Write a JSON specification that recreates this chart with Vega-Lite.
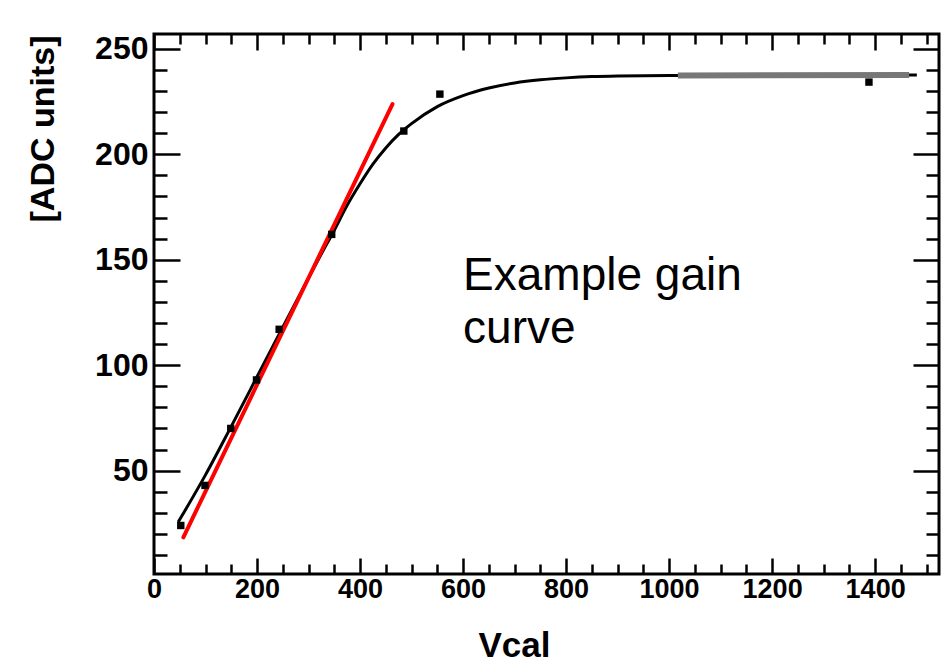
{
  "$schema": "https://vega.github.io/schema/vega-lite/v6.json",
  "width": 785,
  "height": 540,
  "autosize": {"type": "none"},
  "padding": {"left": 154, "top": 34, "right": 12, "bottom": 98},
  "background": "white",
  "config": {"view": {"stroke": "black", "strokeWidth": 3}, "font": "Liberation Sans"},
  "datasets": {
    "curve": [
      {"vcal": 47, "adc": 25.6},
      {"vcal": 100, "adc": 48},
      {"vcal": 150, "adc": 71},
      {"vcal": 200, "adc": 94.5},
      {"vcal": 250, "adc": 118},
      {"vcal": 300, "adc": 141.3},
      {"vcal": 325, "adc": 152.8},
      {"vcal": 350, "adc": 164},
      {"vcal": 375, "adc": 175.8},
      {"vcal": 400, "adc": 186},
      {"vcal": 425, "adc": 195.3},
      {"vcal": 450, "adc": 203},
      {"vcal": 475, "adc": 209.4},
      {"vcal": 500, "adc": 214.5},
      {"vcal": 550, "adc": 222.6},
      {"vcal": 600, "adc": 227.8},
      {"vcal": 650, "adc": 231.4},
      {"vcal": 700, "adc": 233.8},
      {"vcal": 750, "adc": 235.3},
      {"vcal": 800, "adc": 236.2},
      {"vcal": 850, "adc": 236.8},
      {"vcal": 900, "adc": 237.1},
      {"vcal": 1000, "adc": 237.3},
      {"vcal": 1200, "adc": 237.5},
      {"vcal": 1481, "adc": 237.6}
    ],
    "gray": [
      {"vcal": 1017, "adc": 237.35},
      {"vcal": 1466, "adc": 237.6}
    ],
    "fit": [
      {"vcal": 57, "adc": 18.4},
      {"vcal": 463, "adc": 223.8}
    ],
    "points": [
      {"vcal": 52, "adc": 24},
      {"vcal": 99, "adc": 43},
      {"vcal": 149, "adc": 70},
      {"vcal": 199, "adc": 93},
      {"vcal": 243, "adc": 117},
      {"vcal": 345, "adc": 162},
      {"vcal": 485, "adc": 211},
      {"vcal": 555, "adc": 228.5},
      {"vcal": 1388, "adc": 234.2}
    ],
    "note": [
      {"vcal": 600, "adc": 135.6}
    ]
  },
  "layer": [
    {
      "data": {"name": "curve"},
      "mark": {"type": "line", "color": "black", "strokeWidth": 3, "interpolate": "monotone"},
      "encoding": {
        "x": {
          "field": "vcal", "type": "quantitative",
          "scale": {"domain": [0, 1524], "nice": false, "zero": false},
          "axis": {
            "orient": "bottom",
            "values": [0,50,100,150,200,250,300,350,400,450,500,550,600,650,700,750,800,850,900,950,1000,1050,1100,1150,1200,1250,1300,1350,1400,1450,1500],
            "format": "d",
            "domain": false, "grid": false,
            "tickColor": "black", "tickWidth": 2.5,
            "tickSize": {"condition": {"test": "datum.value % 200 === 0", "value": -16}, "value": -10},
            "labelExpr": "datum.value % 200 === 0 ? datum.label : ''",
            "labelFont": "Liberation Sans", "labelFontWeight": "bold", "labelFontSize": 27,
            "labelColor": "black", "labelPadding": 18,
            "labelFlush": false, "labelOverlap": false, "labelBound": false,
            "title": "Vcal", "titleFont": "Liberation Sans", "titleFontSize": 35, "titleFontWeight": "bold",
            "titleColor": "black", "titleX": 360, "titleY": 82, "titleAlign": "center", "titleBaseline": "alphabetic"
          }
        },
        "y": {
          "field": "adc", "type": "quantitative",
          "scale": {"domain": [1, 257], "nice": false, "zero": false},
          "axis": {
            "orient": "left",
            "values": [10,20,30,40,50,60,70,80,90,100,110,120,130,140,150,160,170,180,190,200,210,220,230,240,250],
            "format": "d",
            "domain": false, "grid": false,
            "tickColor": "black", "tickWidth": 2.5,
            "tickSize": {"condition": {"test": "datum.value % 50 === 0", "value": -26}, "value": -13},
            "labelExpr": "datum.value % 50 === 0 ? datum.label : ''",
            "labelFont": "Liberation Sans", "labelFontWeight": "bold", "labelFontSize": 32,
            "labelColor": "black", "labelPadding": 32,
            "labelFlush": false, "labelOverlap": false, "labelBound": false,
            "title": "[ADC units]", "titleFont": "Liberation Sans", "titleFontSize": 34, "titleFontWeight": "bold",
            "titleColor": "black", "titleAngle": 270, "titleX": -101, "titleY": 1, "titleAlign": "right", "titleBaseline": "alphabetic"
          }
        }
      }
    },
    {
      "data": {"name": "gray"},
      "mark": {"type": "line", "color": "#777777", "strokeWidth": 6},
      "encoding": {
        "x": {"field": "vcal", "type": "quantitative", "axis": null},
        "y": {"field": "adc", "type": "quantitative", "axis": null}
      }
    },
    {
      "data": {"name": "fit"},
      "mark": {"type": "line", "color": "#ff0000", "strokeWidth": 4, "strokeCap": "round"},
      "encoding": {
        "x": {"field": "vcal", "type": "quantitative", "axis": null},
        "y": {"field": "adc", "type": "quantitative", "axis": null}
      }
    },
    {
      "data": {"name": "points"},
      "mark": {"type": "square", "size": 55, "color": "black", "opacity": 1},
      "encoding": {
        "x": {
          "field": "vcal", "type": "quantitative",
          "axis": {
            "orient": "top",
            "values": [0,50,100,150,200,250,300,350,400,450,500,550,600,650,700,750,800,850,900,950,1000,1050,1100,1150,1200,1250,1300,1350,1400,1450,1500],
            "domain": false, "grid": false, "labels": false, "title": null,
            "tickColor": "black", "tickWidth": 2.5,
            "tickSize": {"condition": {"test": "datum.value % 200 === 0", "value": -16}, "value": -10}
          }
        },
        "y": {
          "field": "adc", "type": "quantitative",
          "axis": {
            "orient": "right",
            "values": [10,20,30,40,50,60,70,80,90,100,110,120,130,140,150,160,170,180,190,200,210,220,230,240,250],
            "domain": false, "grid": false, "labels": false, "title": null,
            "tickColor": "black", "tickWidth": 2.5,
            "tickSize": {"condition": {"test": "datum.value % 50 === 0", "value": -26}, "value": -13}
          }
        }
      }
    },
    {
      "data": {"name": "note"},
      "mark": {"type": "text", "text": ["Example gain", "curve"], "align": "left", "baseline": "alphabetic", "font": "Liberation Sans", "fontSize": 46, "lineHeight": 53, "color": "black"},
      "encoding": {
        "x": {"field": "vcal", "type": "quantitative", "axis": null},
        "y": {"field": "adc", "type": "quantitative", "axis": null}
      }
    }
  ],
  "resolve": {"axis": {"x": "independent", "y": "independent"}}
}
